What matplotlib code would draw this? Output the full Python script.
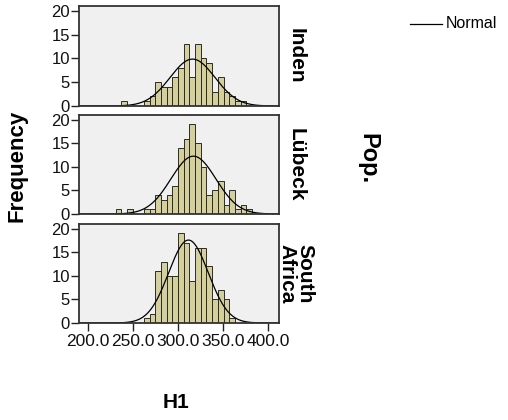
import numpy as np
import matplotlib
matplotlib.use("Agg")
import matplotlib.pyplot as plt
from matplotlib.lines import Line2D

plt.rcParams['font.family'] = ['Liberation Sans', 'DejaVu Sans']

# Histogram bins of H1 (shared by all populations)
bin_start = 230.7
bin_width = 6.3

populations = ["Inden", "Lübeck", "South\nAfrica"]

counts_inden = [0, 1, 0, 0, 0, 1, 2, 5, 4, 4, 6, 8, 13, 6, 13, 10, 9, 3, 6, 3, 2, 1, 1, 0]
counts_luebeck = [1, 0, 1, 0, 0, 1, 1, 4, 3, 4, 6, 14, 16, 19, 15, 10, 4, 5, 7, 2, 5, 1, 2, 1]
counts_southafrica = [0, 0, 0, 0, 0, 1, 2, 11, 13, 10, 10, 19, 17, 9, 16, 16, 12, 5, 7, 5, 1, 0, 0, 0]
all_counts = [counts_inden, counts_luebeck, counts_southafrica]

# Normal curve parameters per population
normal_means = [316.0, 317.0, 311.5]
normal_sds = [25.0, 25.0, 22.0]

x_ticks = [200.0, 250.0, 300.0, 350.0, 400.0]
y_ticks = [0, 5, 10, 15, 20]

W, H = 508, 420
fig = plt.figure(figsize=(W / 100, H / 100), dpi=100)

def px_box(left, top, right, bottom):
    return [left / W, 1 - bottom / H, (right - left) / W, (bottom - top) / H]

panel_boxes = [(79, 6, 279, 106), (79, 115, 279, 214), (79, 224, 279, 323)]
bar_color = "#d5d09b"
frame_color = "#333333"

xs = np.linspace(185, 415, 600)
for i, (box, counts, mu, sd, name) in enumerate(
        zip(panel_boxes, all_counts, normal_means, normal_sds, populations)):
    ax = fig.add_axes(px_box(*box))
    ax.set_facecolor("#f0f0f0")
    edges = bin_start + bin_width * np.arange(len(counts) + 1)
    ax.bar(edges[:-1], counts, width=bin_width, align="edge",
           color=bar_color, edgecolor="#2b2b2b", linewidth=0.7)
    n = sum(counts)
    pdf = np.exp(-0.5 * ((xs - mu) / sd) ** 2) / (sd * np.sqrt(2 * np.pi))
    ax.plot(xs, n * bin_width * pdf, color="black", linewidth=0.9)
    ax.set_xlim(190, 412)
    ax.set_ylim(0, 21)
    ax.set_yticks(y_ticks)
    ax.set_yticklabels([str(t) for t in y_ticks], fontsize=12, color="#111111")
    ax.tick_params(axis="y", direction="out", length=6, width=1, color="#222222", pad=0.5)
    if i == 2:
        ax.set_xticks(x_ticks)
        ax.set_xticklabels([f"{t:.1f}" for t in x_ticks], fontsize=12.5, color="#111111")
        ax.tick_params(axis="x", direction="out", length=6, width=1, color="#222222", pad=2)
    else:
        ax.set_xticks([])
    for s in ax.spines.values():
        s.set_color(frame_color)
        s.set_linewidth(1.3)
    cy = (box[1] + box[3]) / 2
    fig.text(296 / W, 1 - cy / H, name, rotation=-90, fontsize=15, fontweight="bold",
             ha="center", va="center", multialignment="left", rotation_mode="anchor",
             linespacing=0.95)

fig.text(17.5 / W, 1 - 166 / H, "Frequency", rotation=90, fontsize=16,
         fontweight="bold", ha="center", va="center")
fig.text(368 / W, 1 - 159 / H, "Pop.", rotation=-90, fontsize=17,
         fontweight="bold", ha="center", va="center")
fig.text(176 / W, 1 - 402 / H, "H1", fontsize=15, fontweight="bold",
         ha="center", va="center")

# Legend entry for the normal curve
fig.add_artist(Line2D([410 / W, 442 / W], [1 - 24 / H, 1 - 24 / H],
                      color="black", linewidth=0.9))
fig.text(446 / W, 1 - 24 / H, "Normal", fontsize=11.5, ha="left", va="center")

fig.savefig("out.png", dpi=100, facecolor="white")
